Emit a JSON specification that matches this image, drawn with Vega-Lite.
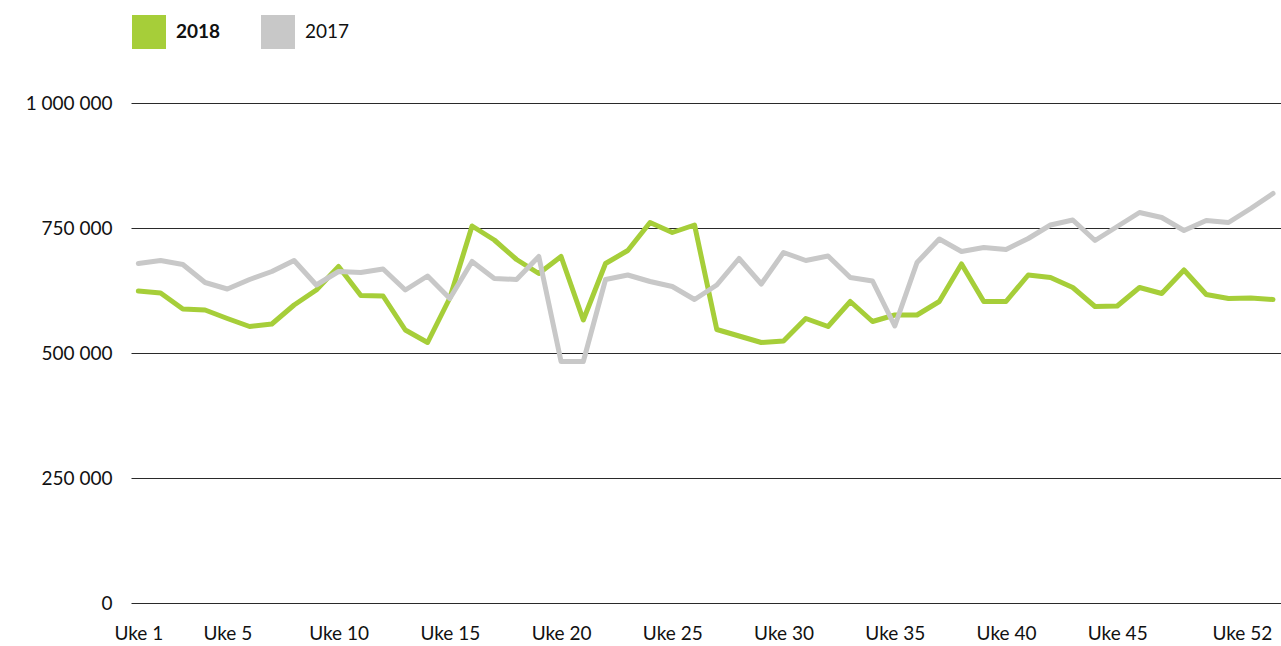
{
  "$schema": "https://vega.github.io/schema/vega-lite/v6.json",
  "width": 1150,
  "height": 500,
  "autosize": "none",
  "padding": {"left": 131, "top": 103, "right": 0, "bottom": 43},
  "background": "white",
  "config": {"view": {"stroke": null}, "font": "Lato"},
  "data": {"values": [
    {"uke":1,"year":"2018","value":624000},{"uke":2,"year":"2018","value":620000},{"uke":3,"year":"2018","value":588000},{"uke":4,"year":"2018","value":586000},{"uke":5,"year":"2018","value":569000},{"uke":6,"year":"2018","value":553000},{"uke":7,"year":"2018","value":558000},{"uke":8,"year":"2018","value":596000},{"uke":9,"year":"2018","value":626000},{"uke":10,"year":"2018","value":673000},
    {"uke":11,"year":"2018","value":615000},{"uke":12,"year":"2018","value":614000},{"uke":13,"year":"2018","value":546000},{"uke":14,"year":"2018","value":521000},{"uke":15,"year":"2018","value":610000},{"uke":16,"year":"2018","value":754000},{"uke":17,"year":"2018","value":726000},{"uke":18,"year":"2018","value":687000},{"uke":19,"year":"2018","value":659000},{"uke":20,"year":"2018","value":693000},
    {"uke":21,"year":"2018","value":566000},{"uke":22,"year":"2018","value":679000},{"uke":23,"year":"2018","value":705000},{"uke":24,"year":"2018","value":761000},{"uke":25,"year":"2018","value":741000},{"uke":26,"year":"2018","value":756000},{"uke":27,"year":"2018","value":547000},{"uke":28,"year":"2018","value":534000},{"uke":29,"year":"2018","value":521000},{"uke":30,"year":"2018","value":524000},
    {"uke":31,"year":"2018","value":569000},{"uke":32,"year":"2018","value":553000},{"uke":33,"year":"2018","value":603000},{"uke":34,"year":"2018","value":563000},{"uke":35,"year":"2018","value":576000},{"uke":36,"year":"2018","value":576000},{"uke":37,"year":"2018","value":603000},{"uke":38,"year":"2018","value":678000},{"uke":39,"year":"2018","value":603000},{"uke":40,"year":"2018","value":603000},
    {"uke":41,"year":"2018","value":656000},{"uke":42,"year":"2018","value":651000},{"uke":43,"year":"2018","value":631000},{"uke":44,"year":"2018","value":593000},{"uke":45,"year":"2018","value":594000},{"uke":46,"year":"2018","value":631000},{"uke":47,"year":"2018","value":619000},{"uke":48,"year":"2018","value":666000},{"uke":49,"year":"2018","value":617000},{"uke":50,"year":"2018","value":609000},
    {"uke":51,"year":"2018","value":610000},{"uke":52,"year":"2018","value":607000},
    {"uke":1,"year":"2017","value":679000},{"uke":2,"year":"2017","value":685000},{"uke":3,"year":"2017","value":677000},{"uke":4,"year":"2017","value":641000},{"uke":5,"year":"2017","value":628000},{"uke":6,"year":"2017","value":647000},{"uke":7,"year":"2017","value":663000},{"uke":8,"year":"2017","value":685000},{"uke":9,"year":"2017","value":636000},{"uke":10,"year":"2017","value":663000},
    {"uke":11,"year":"2017","value":661000},{"uke":12,"year":"2017","value":668000},{"uke":13,"year":"2017","value":626000},{"uke":14,"year":"2017","value":654000},{"uke":15,"year":"2017","value":609000},{"uke":16,"year":"2017","value":683000},{"uke":17,"year":"2017","value":649000},{"uke":18,"year":"2017","value":647000},{"uke":19,"year":"2017","value":693000},{"uke":20,"year":"2017","value":483000},
    {"uke":21,"year":"2017","value":483000},{"uke":22,"year":"2017","value":647000},{"uke":23,"year":"2017","value":656000},{"uke":24,"year":"2017","value":643000},{"uke":25,"year":"2017","value":633000},{"uke":26,"year":"2017","value":607000},{"uke":27,"year":"2017","value":636000},{"uke":28,"year":"2017","value":689000},{"uke":29,"year":"2017","value":638000},{"uke":30,"year":"2017","value":701000},
    {"uke":31,"year":"2017","value":685000},{"uke":32,"year":"2017","value":694000},{"uke":33,"year":"2017","value":651000},{"uke":34,"year":"2017","value":644000},{"uke":35,"year":"2017","value":554000},{"uke":36,"year":"2017","value":681000},{"uke":37,"year":"2017","value":728000},{"uke":38,"year":"2017","value":703000},{"uke":39,"year":"2017","value":711000},{"uke":40,"year":"2017","value":707000},
    {"uke":41,"year":"2017","value":729000},{"uke":42,"year":"2017","value":756000},{"uke":43,"year":"2017","value":766000},{"uke":44,"year":"2017","value":725000},{"uke":45,"year":"2017","value":753000},{"uke":46,"year":"2017","value":781000},{"uke":47,"year":"2017","value":771000},{"uke":48,"year":"2017","value":745000},{"uke":49,"year":"2017","value":765000},{"uke":50,"year":"2017","value":761000},
    {"uke":51,"year":"2017","value":789000},{"uke":52,"year":"2017","value":819000}
  ]},
  "mark": {"type": "line", "strokeWidth": 5, "strokeJoin": "round", "strokeCap": "round"},
  "encoding": {
    "x": {
      "field": "uke", "type": "quantitative",
      "scale": {"domain": [0.67, 52.36], "nice": false, "zero": false},
      "axis": {
        "title": null, "grid": false, "ticks": false, "domain": false,
        "values": [1, 5, 10, 15, 20, 25, 30, 35, 40, 45, 50.6],
        "labelExpr": "datum.value > 50 ? 'Uke 52' : 'Uke ' + datum.value",
        "labelFont": "Lato", "labelFontSize": 19, "labelColor": "#111",
        "labelPadding": 21, "labelOverlap": false, "labelFlush": false, "labelBound": false
      }
    },
    "y": {
      "field": "value", "type": "quantitative",
      "scale": {"domain": [0, 1000000], "nice": false},
      "axis": {
        "title": null, "ticks": false, "domain": false,
        "values": [0, 250000, 500000, 750000, 1000000],
        "labelExpr": "replace(replace(format(datum.value, ','), ',', ' '), ',', ' ')",
        "grid": true, "gridColor": "#2a2a2a", "gridWidth": 1, "gridOpacity": 1,
        "labelFont": "Lato", "labelFontSize": 19, "labelColor": "#111",
        "labelPadding": 19
      }
    },
    "color": {
      "field": "year", "type": "nominal",
      "scale": {"domain": ["2018", "2017"], "range": ["#A6CE39", "#C8C8C8"]},
      "legend": {
        "orient": "none", "legendX": 1, "legendY": -88, "direction": "horizontal",
        "title": null, "symbolType": "square", "symbolSize": 1156, "symbolStrokeWidth": 0,
        "labelOffset": 10, "columnPadding": 40, "padding": 0,
        "labelFont": "Lato", "labelFontSize": 19, "labelColor": "#111",
        "encode": {
          "symbols": {"update": {"fill": {"scale": "color", "field": "value"}, "fillOpacity": {"value": 1}, "strokeWidth": {"value": 0}}},
          "labels": {"update": {"fontWeight": {"signal": "datum.label === '2018' ? 'bold' : 'normal'"}}}
        }
      }
    }
  }
}
